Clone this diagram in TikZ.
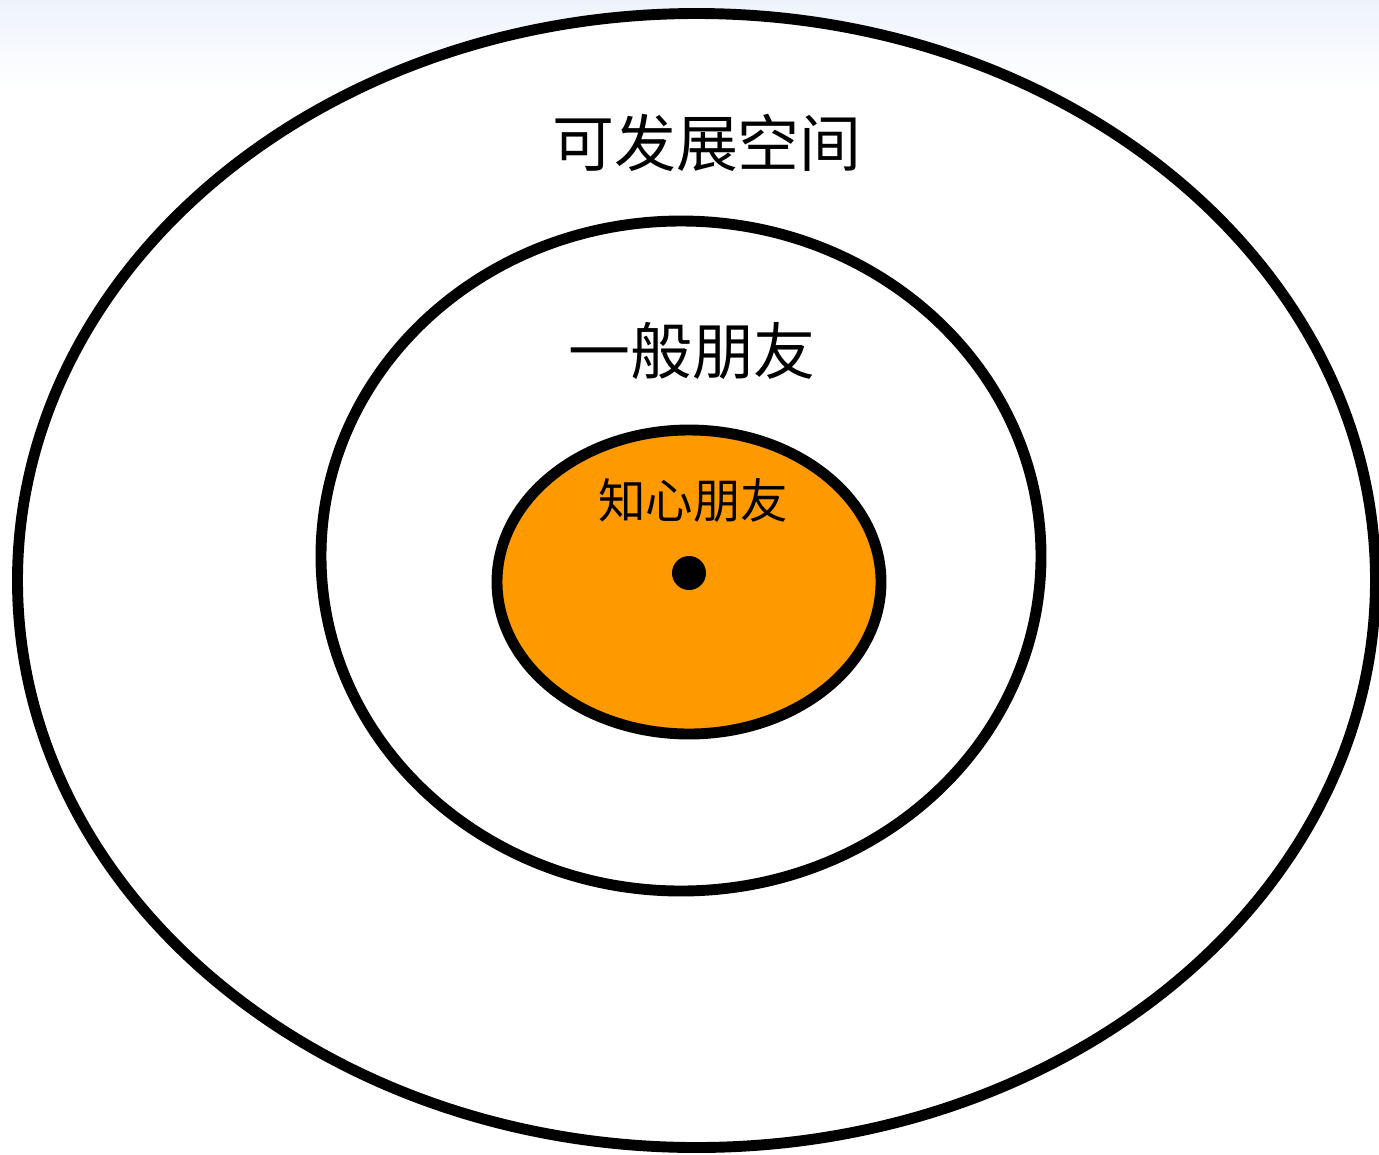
\documentclass[tikz,border=0pt]{standalone}
\usepackage{fontspec}
\newfontfamily\cjk{Noto Sans CJK SC}
\definecolor{coreorange}{HTML}{FF9900}
\definecolor{skyblue}{HTML}{EEF3FB}
\begin{document}
\begin{tikzpicture}[x=0.01cm,y=-0.01cm,
  ring/.style={draw=black,line width=3.1pt},
  label/.style={font=\cjk,inner sep=0pt,text=black}]
\useasboundingbox (0,0) rectangle (1379,1154);
\shade[top color=skyblue,bottom color=white] (0,0) rectangle (1379,90);
\draw[ring,fill=white] (696.5,580.5) ellipse [x radius=679, y radius=567];
\draw[ring,fill=white] (681,556) ellipse [x radius=360, y radius=335];
\draw[ring,fill=coreorange] (689,582) ellipse [x radius=192, y radius=152];
\fill[black] (689,573) circle [radius=17];
\node[label,font=\cjk\fontsize{17.6pt}{20pt}\selectfont] (outer) at (707,143) {可发展空间};
\node[label,font=\cjk\fontsize{17.6pt}{20pt}\selectfont] (middle) at (692,351) {一般朋友};
\node[label,font=\cjk\fontsize{13.5pt}{16pt}\selectfont] (inner) at (693,500) {知心朋友};
\end{tikzpicture}
\end{document}
